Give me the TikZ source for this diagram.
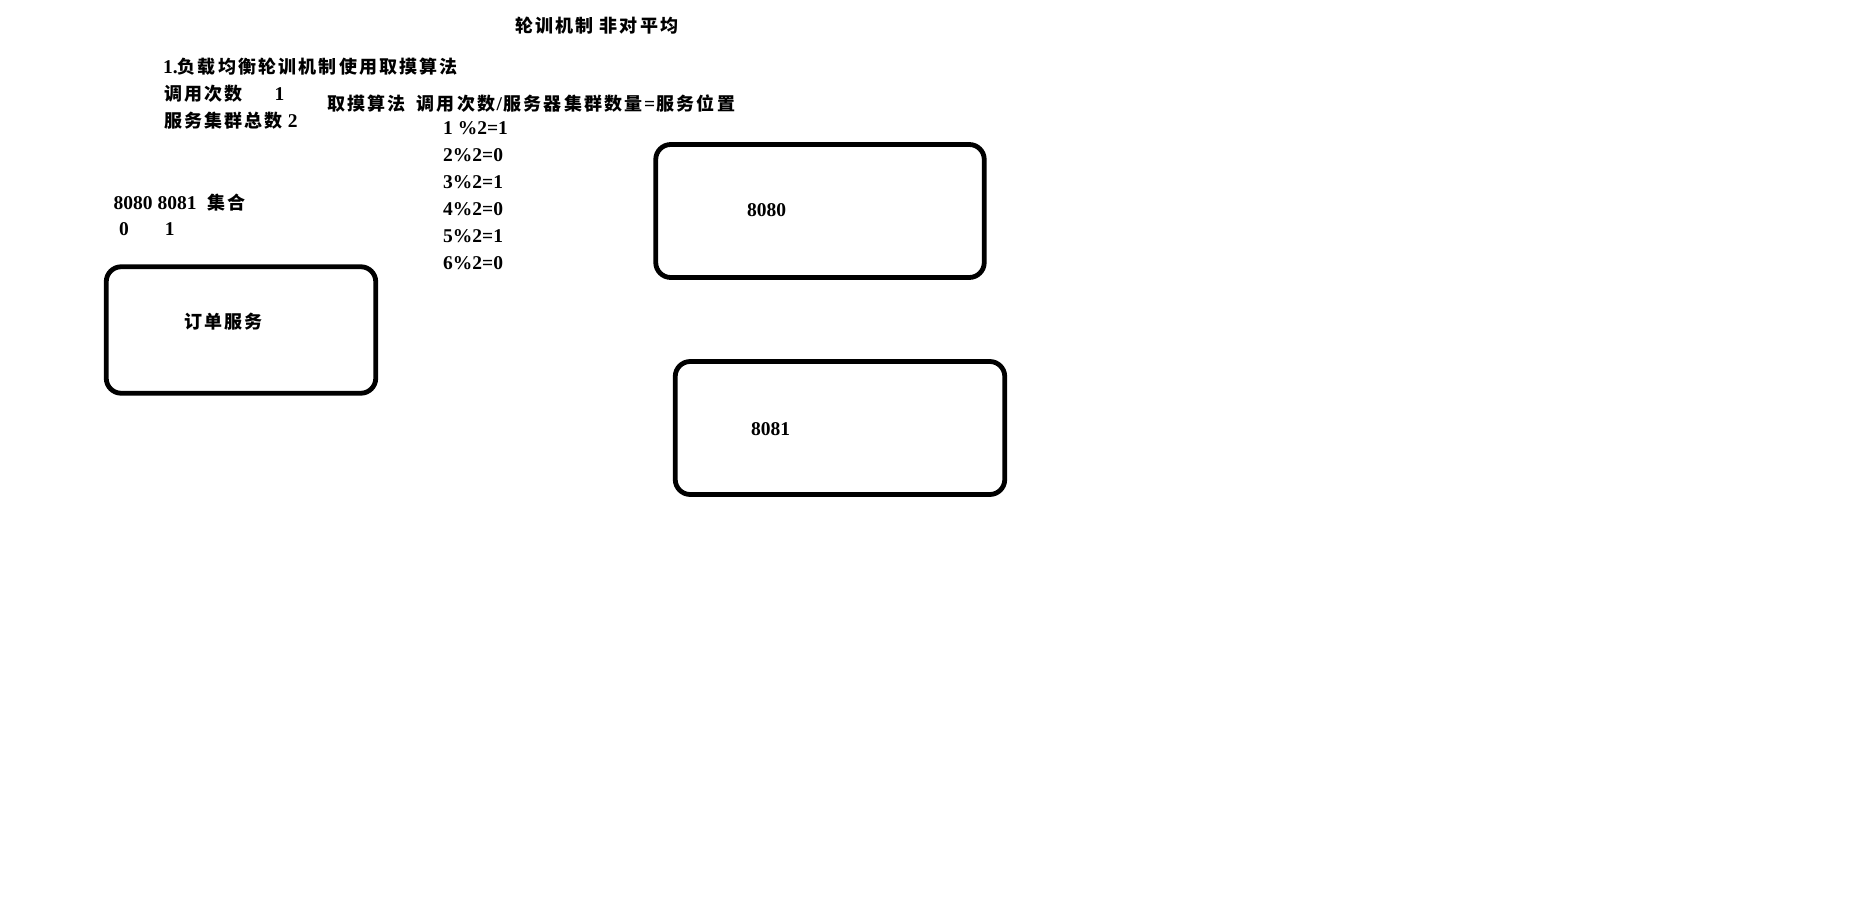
\documentclass[tikz,border=0pt]{standalone}
\usepackage{fontspec}
\setmainfont{Liberation Serif}
\newfontfamily\cjk{Noto Sans CJK SC}[LetterSpace=12]
\usepackage{tikz}

\newcommand{\zhtext}[1]{{\cjk\fontsize{18}{21}\selectfont #1}}

\begin{document}
\begin{tikzpicture}[x=1pt, y=-1pt, font=\fontsize{19.5}{22}\selectfont\bfseries,
    txt/.style={anchor=base west, inner sep=0pt},
    svc/.style={draw, line width=4.8pt, rounded corners=15pt, minimum width=#1, minimum height=133pt, inner sep=0pt}]
    \useasboundingbox (0,0) rectangle (1876,917);

    % service boxes
    \node[svc=269.5pt, minimum height=126.5pt] (order) at (241,330) {};
    \node[svc=328.5pt] (s8080) at (820,211) {};
    \node[svc=329.5pt] (s8081) at (840,428) {};

    \node[txt] (lorder) at (184,328) {\zhtext{订单服务}};
    \node[txt] (l8080) at (747,217) {8080};
    \node[txt] (l8081) at (751,435) {8081};

    % notes
    \node[txt] (title) at (515,33) {\zhtext{轮训机制}\hspace{6pt}\zhtext{非对平均}};
    \node[txt] (rule) at (163,74) {1.\zhtext{负载均衡轮训机制使用取摸算法}};
    \node[txt] (calls) at (164,101) {\zhtext{调用次数}\hspace{32pt}1};
    \node[txt] (total) at (164,128) {\zhtext{服务集群总数} 2};
    \node[txt] (algo) at (327,111) {\zhtext{取摸算法}\hspace{11pt}\zhtext{调用次数}\hspace{1.5pt}/\hspace{1.5pt}\zhtext{服务器集群数量}\hspace{1.5pt}=\hspace{1.5pt}\zhtext{服务位置}};

    \node[txt] (m1) at (443,135) {1 \%2=1};
    \foreach \n/\r [count=\k] in {2/0,3/1,4/0,5/1,6/0}
        \node[txt] (m\n) at (443,135+26.86*\k) {\n\%2=\r};

    \node[txt] (ports) at (113.5,210) {8080 8081\hspace{11pt}\zhtext{集合}};
    \node[txt] (idx) at (119,236) {0\hspace{36pt}1};
\end{tikzpicture}
\end{document}
